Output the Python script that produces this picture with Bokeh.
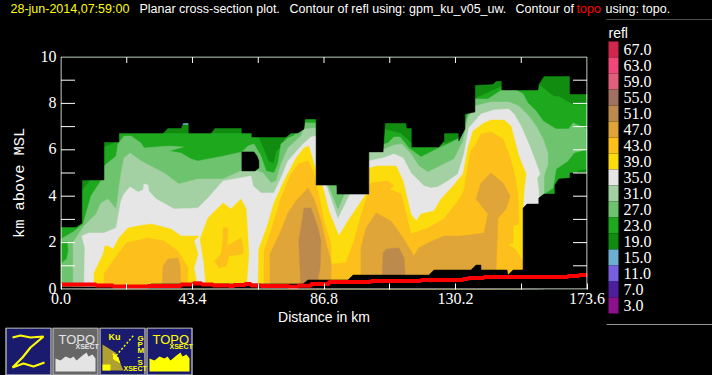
from math import pi
from bokeh.plotting import figure
from bokeh.layouts import column, row
from bokeh.models import Range1d, LinearAxis, FixedTicker, NumeralTickFormatter, GlobalInlineStyleSheet
from bokeh.core.properties import value
from bokeh.embed import file_html
from bokeh.resources import INLINE

# ---- reflectivity contour outlines: (distance km, height km) ----
no_data_top = [(0,10),(0,2.67),(5.0,2.67),(6.9,2.84),(6.9,4.70),(14.2,4.70),(14.2,6.34),(19.1,6.34),(19.1,6.72),(33.7,6.72),(35.3,6.94),(39.6,6.94),(40.3,7.16),(42.2,7.16),(42.2,6.72),(49.5,6.72),(50.8,6.94),(59.7,6.94),(59.7,6.72),(63.0,6.72),(63.0,6.55),(74.3,6.55),(75.9,6.72),(78.2,6.72),(80.2,6.90),(80.5,7.33),(84.2,7.33),(84.2,4.48),(91.1,4.48),(91.1,4.09),(101.6,4.09),(101.6,5.91),(106.3,5.91),(106.9,7.16),(113.9,7.16),(114.2,6.94),(115.8,6.94),(115.8,6.12),(124.7,6.12),(126.4,6.38),(126.4,6.72),(131.3,6.72),(131.3,6.38),(133.3,6.90),(133.3,7.54),(136.6,7.63),(136.6,8.79),(142.6,8.84),(143.6,8.97),(145.5,8.97),(145.5,8.58),(157.4,8.58),(157.7,8.84),(159.4,9.18),(168.0,9.18),(168.0,8.41),(173.6,8.41),(173.6,10)]
no_data_bottom = [(173.6,5.0),(168.0,5.0),(168,4.78),(164.3,4.74),(163,4.48),(163,4.09),(159.4,4.09),(157.7,3.92),(157.7,3.66),(153.8,3.66),(152.5,3.49),(152.5,0.82),(149.2,0.82),(147.5,0.60),(147.2,0.82),(138.6,0.82),(138.6,1.03),(137,1.03),(135.3,0.82),(123.1,0.82),(121.4,0.60),(96.4,0.60),(94.7,0.39),(81.5,0.39),(79.9,0.22),(46.2,0.22),(46.2,0.30),(43.6,0.30),(43.6,0.22),(29.7,0.22),(29.7,0.09),(0,0.09),(0,0),(173.6,0)]
no_data_hole = [(59.7,5.91),(63.7,5.91),(64.7,5.73),(65.3,5.52),(65.3,5.22),(64,5.09),(59.7,5.09)]

refl_23_base = [(0,0),(0,10),(173.6,10),(173.6,0)]
refl_19 = [
    [(6.9,4.70),(9.6,4.70),(6.9,4.27)],
    [(14.2,6.34),(17.8,6.34),(14.2,6.12)],
    [(33.7,6.72),(35.3,6.94),(39.6,6.94),(40.3,7.16),(42.2,7.16),(42.2,6.72)],
    [(49.5,6.72),(50.8,6.94),(59.7,6.94),(59.7,6.72)],
    [(65.3,6.68),(74.3,6.68),(72.9,6.16),(71,5.95),(70,5.43),(68.6,5.52),(67.3,5.95),(65.3,6.55)],
    [(106.9,7.16),(113.9,7.16),(115.8,6.94),(115.8,6.29),(112.2,6.72),(106.9,6.90)],
    [(126.4,6.72),(131.3,6.72),(131.3,6.51),(126.4,6.29)],
    [(136.6,8.79),(143.6,8.97),(145.5,8.97),(145.5,8.75),(136.6,8.23)],
    [(157.7,8.84),(159.4,9.18),(168,9.18),(168,8.41),(173.6,8.41),(173.6,7.97),(169,7.97),(164.3,8.32),(162.7,8.32)],
    [(170.6,5.09),(173.6,5.17),(173.6,5.0),(170.6,5.0)],
]
refl_15 = [[(39.9,7.16),(41.9,7.16),(41.9,7.09),(39.9,7.09)]]
refl_27 = [[(0,2.16),(4,2.46),(7.3,2.80),(9.9,4.01),(14.2,4.87),(14.2,5.30),(18.2,5.73),(18.8,6.25),(20.8,6.59),(23.1,6.59),(26.4,6.29),(27.4,6.08),(35.6,6.16),(40.3,6.12),(35.6,5.95),(39.6,5.86),(42.9,5.60),(45.2,5.52),(53.8,5.73),(59.7,5.91),(61.7,6.16),(63.7,6.25),(66,5.73),(67.7,5.09),(70.3,5.0),(71.6,5.39),(72.6,6.25),(74.9,6.51),(76.6,6.59),(80.2,7.03),(80.5,7.16),(84.2,7.16),(90.1,5.09),(91.1,4.22),(94,4.87),(101.6,6.16),(106.9,6.25),(107.9,6.29),(109.9,6.55),(111.9,6.55),(114.8,6.08),(118.8,5.69),(121.4,5.86),(124.7,6.08),(127.7,6.25),(131,6.47),(132.7,6.81),(134.3,7.54),(136.6,8.19),(140.9,8.19),(145.5,8.58),(150.2,8.58),(152.5,8.41),(154.1,8.02),(156.8,7.67),(159.1,7.24),(163.4,6.90),(167.6,6.90),(169,7.16),(173.6,6.90),(173.6,6.03),(169.3,5.86),(167.3,5.52),(163.4,5.17),(162.4,4.35),(159.4,4.09),(159.4,0),(0,0)]]
refl_23_inner = [[(0,2.03),(2,2.03),(2.3,1.64),(1.7,1.29),(0.7,1.21),(0,1.08)]]
refl_31 = [[(4,0),(4,1.94),(4.3,2.07),(7.6,2.72),(11.6,3.23),(13.2,3.71),(15.5,3.88),(18.2,3.45),(19.8,4.96),(20.8,5.65),(22.8,5.86),(26.4,5.52),(34,5.0),(38.9,4.53),(45.2,4.74),(53.5,4.74),(59.4,5.09),(65,5.09),(66.7,5.0),(69.3,4.57),(71,4.66),(72.6,5.39),(74.9,6.08),(79.2,6.59),(80.2,6.90),(84.2,6.94),(86.5,5.09),(88.1,4.48),(91.4,3.41),(93.7,4.09),(95.7,5.09),(101.6,6.03),(106.9,6.03),(109.9,6.21),(112.5,6.25),(115.5,5.82),(118.1,5.30),(121.1,5.04),(123.1,5.17),(126.4,5.39),(129.7,5.60),(132.7,6.38),(134.3,7.37),(136.6,7.89),(141.9,8.06),(147.8,8.06),(151.1,7.89),(154.4,7.46),(156.8,7.03),(159.1,6.47),(160.7,5.86),(160.7,5.39),(159.4,4.87),(159.4,4.09),(159.4,0)]]
refl_35 = [[(7.6,0),(7.9,1.77),(6.9,2.28),(9.2,2.41),(14.2,2.41),(18.2,2.63),(19.8,3.79),(20.8,4.09),(22.8,4.40),(25.4,4.18),(27.1,4.27),(27.4,4.53),(28.7,4.48),(29,4.22),(31.4,3.88),(37.3,3.45),(45.2,3.49),(48.5,3.92),(53.5,4.66),(62.7,4.87),(63.4,4.44),(66,4.14),(70.3,4.14),(72.6,4.78),(74.9,5.52),(79.9,6.25),(82.5,6.55),(84.2,6.59),(85.8,5.09),(87.5,4.48),(91.4,3.02),(95.4,4.09),(100.7,5.30),(101.6,5.52),(106.3,5.65),(109.9,5.82),(112.9,5.65),(115.5,5.0),(119.8,4.44),(122.1,4.35),(124.4,4.40),(127.7,4.66),(131,4.96),(133,5.82),(134.6,6.94),(138.6,7.54),(142.9,7.72),(147.8,7.76),(149.5,7.54),(151.8,7.03),(154.4,6.25),(156.8,5.43),(158.1,4.96),(157.1,4.78),(157.7,4.22),(157.7,3.66),(157.7,0)]]
refl_39 = [[(10.9,0),(10.9,0.69),(13.9,1.51),(14.5,1.85),(15.5,1.85),(17.2,1.72),(19.1,2.20),(22.1,2.63),(25.4,2.72),(29.7,2.80),(36.3,2.59),(39.6,2.28),(45.5,2.28),(43.9,2.07),(45.2,1.51),(43.9,0.91),(45.2,0),(47.9,0),(47.2,1.12),(45.9,2.16),(48.5,3.06),(53.5,3.71),(56.1,3.45),(59.4,3.88),(61.1,3.45),(62,1.51),(61.1,0),(65,0),(65.3,1.72),(68.3,2.80),(70.3,3.71),(73.6,4.66),(77.6,5.65),(80.2,6.08),(81.8,6.16),(83.5,5.39),(86.5,4.35),(88.4,3.36),(91.7,2.28),(94.7,2.93),(100.7,4.09),(101.6,4.44),(101.6,5.22),(104.6,5.30),(110.6,5.30),(112.9,4.66),(115.5,3.23),(117.2,2.93),(118.8,3.23),(123.1,3.36),(125.4,3.88),(129.4,4.44),(132.7,4.96),(134.3,6.08),(136,6.81),(139.6,7.16),(141.9,7.28),(146.2,7.28),(148.5,7.03),(151.1,5.73),(153.5,4.96),(152.8,4.22),(152.5,3.45),(152.5,0)]]
refl_43 = [
    [(14.2,0),(14.2,0.65),(17.2,1.21),(19.1,1.55),(21.5,1.98),(28.7,2.20),(34,2.07),(38.6,1.64),(41.9,0.91),(41.6,0)],
    [(53.5,2.63),(55.1,2.63),(54.8,1.85),(59.4,2.20),(60.1,1.77),(60.1,1.51),(55.4,1.42),(54.5,0.99),(52.1,0.91),(50.8,1.21),(52.8,1.51),(53.5,2.07)],
    [(67,0),(67,1.64),(69.3,2.50),(72.6,3.92),(75.9,4.96),(78.5,5.39),(81.5,5.52),(83.2,5.09),(84.8,4.22),(86.8,2.93),(89.1,1.94),(89.1,1.08),(94,1.12),(96.7,2.07),(99,3.15),(101.6,4.22),(102.3,4.57),(107.9,4.66),(109.9,4.44),(108.2,4.31),(112.2,4.09),(113.9,3.23),(115.5,2.37),(121.1,2.63),(126.4,3.02),(131,3.79),(133,4.22),(134.3,5.30),(135.3,5.95),(137,6.25),(138.6,6.68),(141.9,6.77),(145.9,6.47),(147.8,5.82),(149.5,5.09),(150.8,4.09),(151.1,2.80),(149.2,2.72),(149.2,1.98),(147.2,1.94),(149.8,1.72),(152.5,1.21),(152.5,0)],
]
refl_47 = [
    [(33.3,0),(33.7,0.99),(35.3,1.29),(38.6,1.34),(39.3,0.99),(39.6,0)],
    [(69,0),(69,1.51),(72.6,2.50),(74.9,3.28),(77.6,3.79),(81.5,4.35),(83.5,3.88),(85.8,2.93),(87.5,1.94),(89.1,1.21),(89.1,0)],
    [(99,0),(99,1.77),(100.7,2.63),(104,3.28),(108.9,2.93),(112.9,2.20),(116.5,1.42),(118.1,1.77),(121.1,1.98),(126.4,2.28),(132,2.28),(139.6,2.41),(140.9,3.23),(137,3.88),(138.6,4.57),(141.9,5),(145.9,4.57),(148.2,4.01),(146.9,3.45),(144.2,3.06),(143.6,0.91),(143.6,0)],
]
refl_51 = [
    [(80.2,3.49),(82.5,3.49),(84.8,2.63),(85.8,2.07),(85.5,0.91),(84.2,0),(79.2,0),(78.5,2.07)],
    [(105.9,0),(106.3,1.55),(107.3,1.72),(111.5,1.77),(113.2,1.34),(113.9,0)],
]

# ---- topography ----
topo_km = [0,11.6,17.2,28.7,39.6,43.6,46.5,50.2,55.4,57.1,60.7,62.7,66,75.2,78.2,82.5,88.4,102.3,118.8,132.7,134.3,139.6,167.3,171,173.6]
topo_height = [.19,.15,.11,.13,.19,.24,.19,.15,.13,.17,.22,.15,.13,.10,.14,.22,.30,.34,.39,.43,.47,.52,.56,.60,.65]

# ---- axes and legend ----
x_tick_labels = [0.0, 43.4, 86.8, 130.2, 173.6]
x_minor = [21.7, 65.1, 108.5, 151.9]
y_tick_labels = [0, 2, 4, 6, 8, 10]
y_minor = [1, 3, 5, 7, 9]
legend_levels = [67, 63, 59, 55, 51, 47, 43, 39, 35, 31, 27, 23, 19, 15, 11, 7, 3]
legend_colors = ["#d0284c", "#f04878", "#e0607c", "#a07060", "#bd8a4e", "#e0a538", "#fcbf1c", "#fcdc0c",
                 "#e6e6e6", "#a3d1a3", "#6ec46e", "#1ea81e", "#118c11", "#6eb0d2", "#7860e0", "#4c209c", "#8c108c"]
color_of = dict(zip(legend_levels, legend_colors))

BLACK = "#000000"
WHITE = "#ffffff"
NARROW = "Liberation Sans Narrow"
SANS = "Liberation Sans"
KX = 173.6 / 526   # km per pixel along x
KY = 10 / 232      # km per pixel along y


def blank(p, fill_page=BLACK):
    p.background_fill_color = fill_page
    p.border_fill_color = fill_page
    p.outline_line_color = None
    p.grid.visible = False
    p.axis.visible = False
    p.min_border = 0
    p.frame_align = False
    return p


def fill(p, polys, color):
    p.patches([[a for a, _ in q] for q in polys], [[b for _, b in q] for q in polys],
              fill_color=color, line_color=color, line_width=0.5)


# ---- header ----
hdr = blank(figure(width=712, height=20, x_range=(0, 712), y_range=(20, 0),
                   toolbar_location=None, output_backend="svg"))
for tx, txt, col in [(10, "28-jun-2014,07:59:00", "#ffff00"),
                     (139, "Planar cross-section plot.", WHITE),
                     (289, "Contour of refl using: gpm_ku_v05_uw.", WHITE),
                     (515, "Contour of", WHITE),
                     (576, "topo", "#ff0000"),
                     (605, "using: topo.", WHITE)]:
    hdr.text([tx], [8.5], text=[txt], text_color=col, text_font=value(SANS), text_font_size="12.5px",
             text_baseline="middle", text_align="left")
hdr.segment([606], [19.5], [712], [19.5], line_color="#999999", line_width=1)

# ---- height labels, in a column of their own on the same km scale as the plot ----
lab = blank(figure(width=60, height=305, x_range=(0, 60), y_range=(-36.5 * KY, 10 + 36.5 * KY),
                   toolbar_location=None, output_backend="svg"), None)
lab.text([56] * len(y_tick_labels), y_tick_labels, text=[str(v) for v in y_tick_labels], y_offset=-1,
         text_color=WHITE, text_font=value(NARROW), text_font_size="16px",
         text_align="right", text_baseline="alphabetic")
lab.text([19], [4.57], text=["km above MSL"], angle=pi / 2, text_color=WHITE,
         text_font=value("Liberation Mono"), text_font_size="15.3px",
         text_align="center", text_baseline="alphabetic")

# ---- main plot ----
p = figure(frame_width=527, frame_height=233, min_border_left=20, min_border_right=20,
           min_border_top=36, min_border_bottom=36,
           x_range=Range1d(-0.5 * KX, 173.6 + 0.5 * KX), y_range=Range1d(-0.5 * KY, 10 + 0.5 * KY),
           x_axis_location=None, y_axis_location=None,
           toolbar_location=None, output_backend="svg")
p.margin = (0, -7, 0, -20)
p.background_fill_color = BLACK
p.border_fill_color = None
p.outline_line_color = None
p.grid.visible = False
p.frame_align = False

fill(p, [refl_23_base], color_of[23])
fill(p, refl_19, color_of[19])
fill(p, refl_15, color_of[15])
fill(p, refl_27, color_of[27])
fill(p, refl_23_inner, color_of[23])
fill(p, refl_31, color_of[31])
fill(p, refl_35, color_of[35])
fill(p, refl_39, color_of[39])
fill(p, refl_43, color_of[43])
fill(p, refl_47, color_of[47])
fill(p, refl_51, color_of[51])
fill(p, [no_data_top, no_data_bottom, no_data_hole], BLACK)
p.step(topo_km, topo_height, mode="after", line_color="#ff0000", line_width=4)

# frame lines and tick marks along the left, right and top edges
y_inner = [v for v in sorted(y_tick_labels + y_minor) if 0 < v < 10]
x_inner = [v for v in sorted(x_tick_labels + x_minor) if 0 < v < 173.6]
tick_y = 14 * KX
tick_x = 6 * KY
p.segment([0, 173.6, 0, 0], [0, 0, 0, 10], [0, 173.6, 173.6, 173.6], [10, 10, 0, 10], line_color=WHITE, line_width=1)
p.segment([0] * len(y_inner), y_inner, [tick_y] * len(y_inner), y_inner, line_color=WHITE, line_width=1)
p.segment([173.6] * len(y_inner), y_inner, [173.6 - tick_y] * len(y_inner), y_inner, line_color=WHITE, line_width=1)
p.segment(x_inner, [10] * len(x_inner), x_inner, [10 - tick_x] * len(x_inner), line_color=WHITE, line_width=1)

below = LinearAxis(ticker=FixedTicker(ticks=x_tick_labels, minor_ticks=x_minor),
                   formatter=NumeralTickFormatter(format="0.0"))
below.axis_line_color = None
below.major_tick_line_color = WHITE
below.minor_tick_line_color = WHITE
below.major_tick_out = 0
below.minor_tick_out = 0
below.major_tick_in = 6
below.minor_tick_in = 6
below.major_label_text_color = WHITE
below.major_label_text_font = NARROW
below.major_label_text_font_size = "16px"
below.major_label_standoff = 3
below.axis_label = "Distance in km"
below.axis_label_text_color = WHITE
below.axis_label_text_font = SANS
below.axis_label_text_font_size = "14px"
below.axis_label_text_font_style = "normal"
below.axis_label_standoff = 2
p.add_layout(below, "below")

# ---- legend ----
leg = blank(figure(width=112, height=305, x_range=(0, 112), y_range=(17.75, -1.3125),
                   toolbar_location=None, output_backend="svg"), None)
idx = list(range(len(legend_levels)))
leg.quad(left=8, right=18, top=idx, bottom=[i + 1 for i in idx], fill_color=legend_colors, line_color=None)
leg.text([23] * len(idx), [i + 0.5 for i in idx], text=["%.1f" % v for v in legend_levels],
         text_color=WHITE, text_font=value(NARROW), text_font_size="16px", text_baseline="middle")
leg.text([8], [-0.56], text=["refl"], text_color=WHITE, text_font=value(SANS), text_font_size="14px",
         text_baseline="middle")
leg.segment([6], [17.69], [112], [17.69], line_color="#999999", line_width=1)

# ---- icon buttons ----
ic = blank(figure(width=712, height=50, x_range=(0, 712), y_range=(375, 325),
                  toolbar_location=None, output_backend="svg"))
NAVY = "#1a1a6e"
YEL = "#ffff00"
ic.quad(left=[5.5, 52.5, 99.5, 146.5], right=[50.5, 97.5, 144.5, 191.5], top=[325.5] * 4, bottom=[372.5] * 4,
        fill_color=[NAVY, "#666666", NAVY, NAVY], line_color="#aaaaaa", line_width=1.5)
ic.line([12, 20, 30, 43, 30, 22, 12, 23, 33, 44], [335, 333, 335, 334, 345, 355, 365, 361, 364, 360],
        line_color=YEL, line_width=2.2)
terrain_x = [3, 3, 8, 13, 18, 21, 24, 30, 34, 36, 40, 43, 43]
terrain_y = [369, 356, 358, 354, 356, 354, 358, 353, 350, 354, 352, 356, 369]
for off, col, tcol in [(52, "#e4e4e4", "#e4e4e4"), (146, YEL, YEL)]:
    ic.patch([off + t for t in terrain_x], terrain_y, fill_color=col, line_color=None)
    ic.text([off + 6], [337], text=["TOPO"], text_color=tcol, text_font=value(SANS), text_font_size="13px",
            text_baseline="middle")
    ic.text([off + 23], [344], text=["XSECT"], text_color=tcol, text_font=value(SANS), text_font_size="7px",
            text_font_style="bold", text_baseline="middle")
ic.patch([102, 115, 123, 102], [342, 350, 368, 368], fill_color="#b0a030", line_color=None)
ic.quad(left=[102], right=[110], top=[362], bottom=[368], fill_color=YEL, line_color=None)
ic.patch([112, 118, 120, 113], [350, 355, 361, 357], fill_color=YEL, line_color=None)
ic.line([113, 133], [356, 333], line_color=YEL, line_width=1.5, line_dash="2 2")
ic.text([108], [334], text=["Ku"], text_color=YEL, text_font=value(SANS), text_font_size="9px",
        text_font_style="bold", text_baseline="middle")
ic.text([123], [366], text=["XSECT"], text_color=YEL, text_font=value(SANS), text_font_size="7px",
        text_font_style="bold", text_baseline="middle")
for i, ch in enumerate("GPM-S"):
    ic.text([137], [336 + 6 * i], text=[ch], text_color=YEL, text_font=value(SANS), text_font_size="8px",
            text_font_style="bold", text_baseline="middle")

page = column(hdr, row(lab, p, leg, spacing=0), ic, spacing=0)
page.stylesheets = [GlobalInlineStyleSheet(css="html,body{margin:0;padding:0;background:#000;overflow:hidden}")]

open("out.html", "w").write(file_html(page, INLINE))
